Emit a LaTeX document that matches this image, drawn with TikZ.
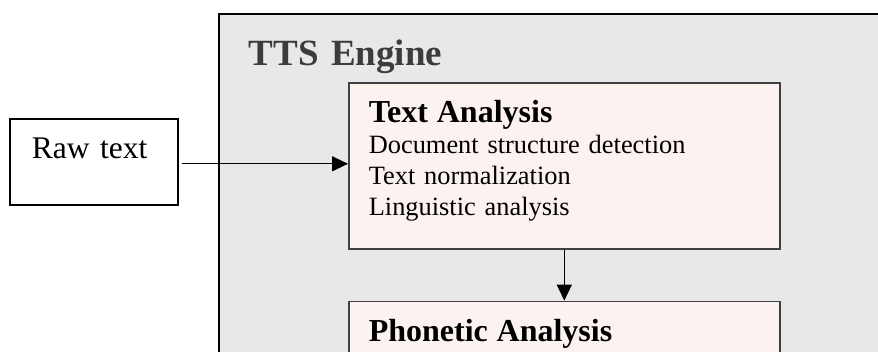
\documentclass[tikz,border=0pt]{standalone}
\usepackage{fontspec}
\setmainfont{Liberation Serif}
\usetikzlibrary{positioning}
\usetikzlibrary{arrows.meta}
\definecolor{enginegray}{HTML}{E8E8E8}
\definecolor{boxpink}{HTML}{FCF3F0}
\definecolor{titlegray}{HTML}{3C3C3C}
\definecolor{edgegray}{HTML}{404040}
\tikzset{
  engine/.style={draw=black, line width=1.5pt, fill=enginegray, anchor=north west,
    inner ysep=0pt, inner xsep=30pt, text width=640pt, align=left,
    text height=52pt, text depth=308pt, text=titlegray,
    font=\fontsize{37}{40}\selectfont\bfseries},
  stage/.style={draw=edgegray, line width=1.6pt, fill=boxpink, inner ysep=0pt,
    inner xsep=20pt, text width=391pt, align=left, text height=40pt,
    text depth=126pt, font=\fontsize{26.4}{31}\selectfont},
  source/.style={draw=black, line width=1.6pt, fill=white, inner ysep=0pt,
    inner xsep=22pt, text width=124pt, align=left, text height=40pt,
    text depth=46pt, font=\fontsize{31.5}{36}\selectfont},
  flow/.style={line width=1.3pt, -{Triangle[length=16pt,width=15pt]}}
}
\begin{document}
\begin{tikzpicture}[x=1pt,y=1pt]
\useasboundingbox (0,0) rectangle (878,-351);
\clip (0,0) rectangle (878,-351);
\node (engine) [engine] at (218,-13) {TTS Engine};
\node (ta) [stage, anchor=north west] at (348,-82) {{\fontsize{32}{31}\selectfont\bfseries Text Analysis}\\
  Document structure detection\\
  Text normalization\\
  Linguistic analysis};
\node (pa) [stage, below=51pt of ta] {{\fontsize{32}{31}\selectfont\bfseries Phonetic Analysis}};
\node (raw) [source, anchor=north west] at (9,-118) {Raw text};
\draw [flow, shorten <=3pt] ([yshift=-2pt]raw.east) -- ([yshift=-2pt]raw.east -| ta.west);
\draw [flow] (ta.south) -- (pa.north);
\end{tikzpicture}
\end{document}
